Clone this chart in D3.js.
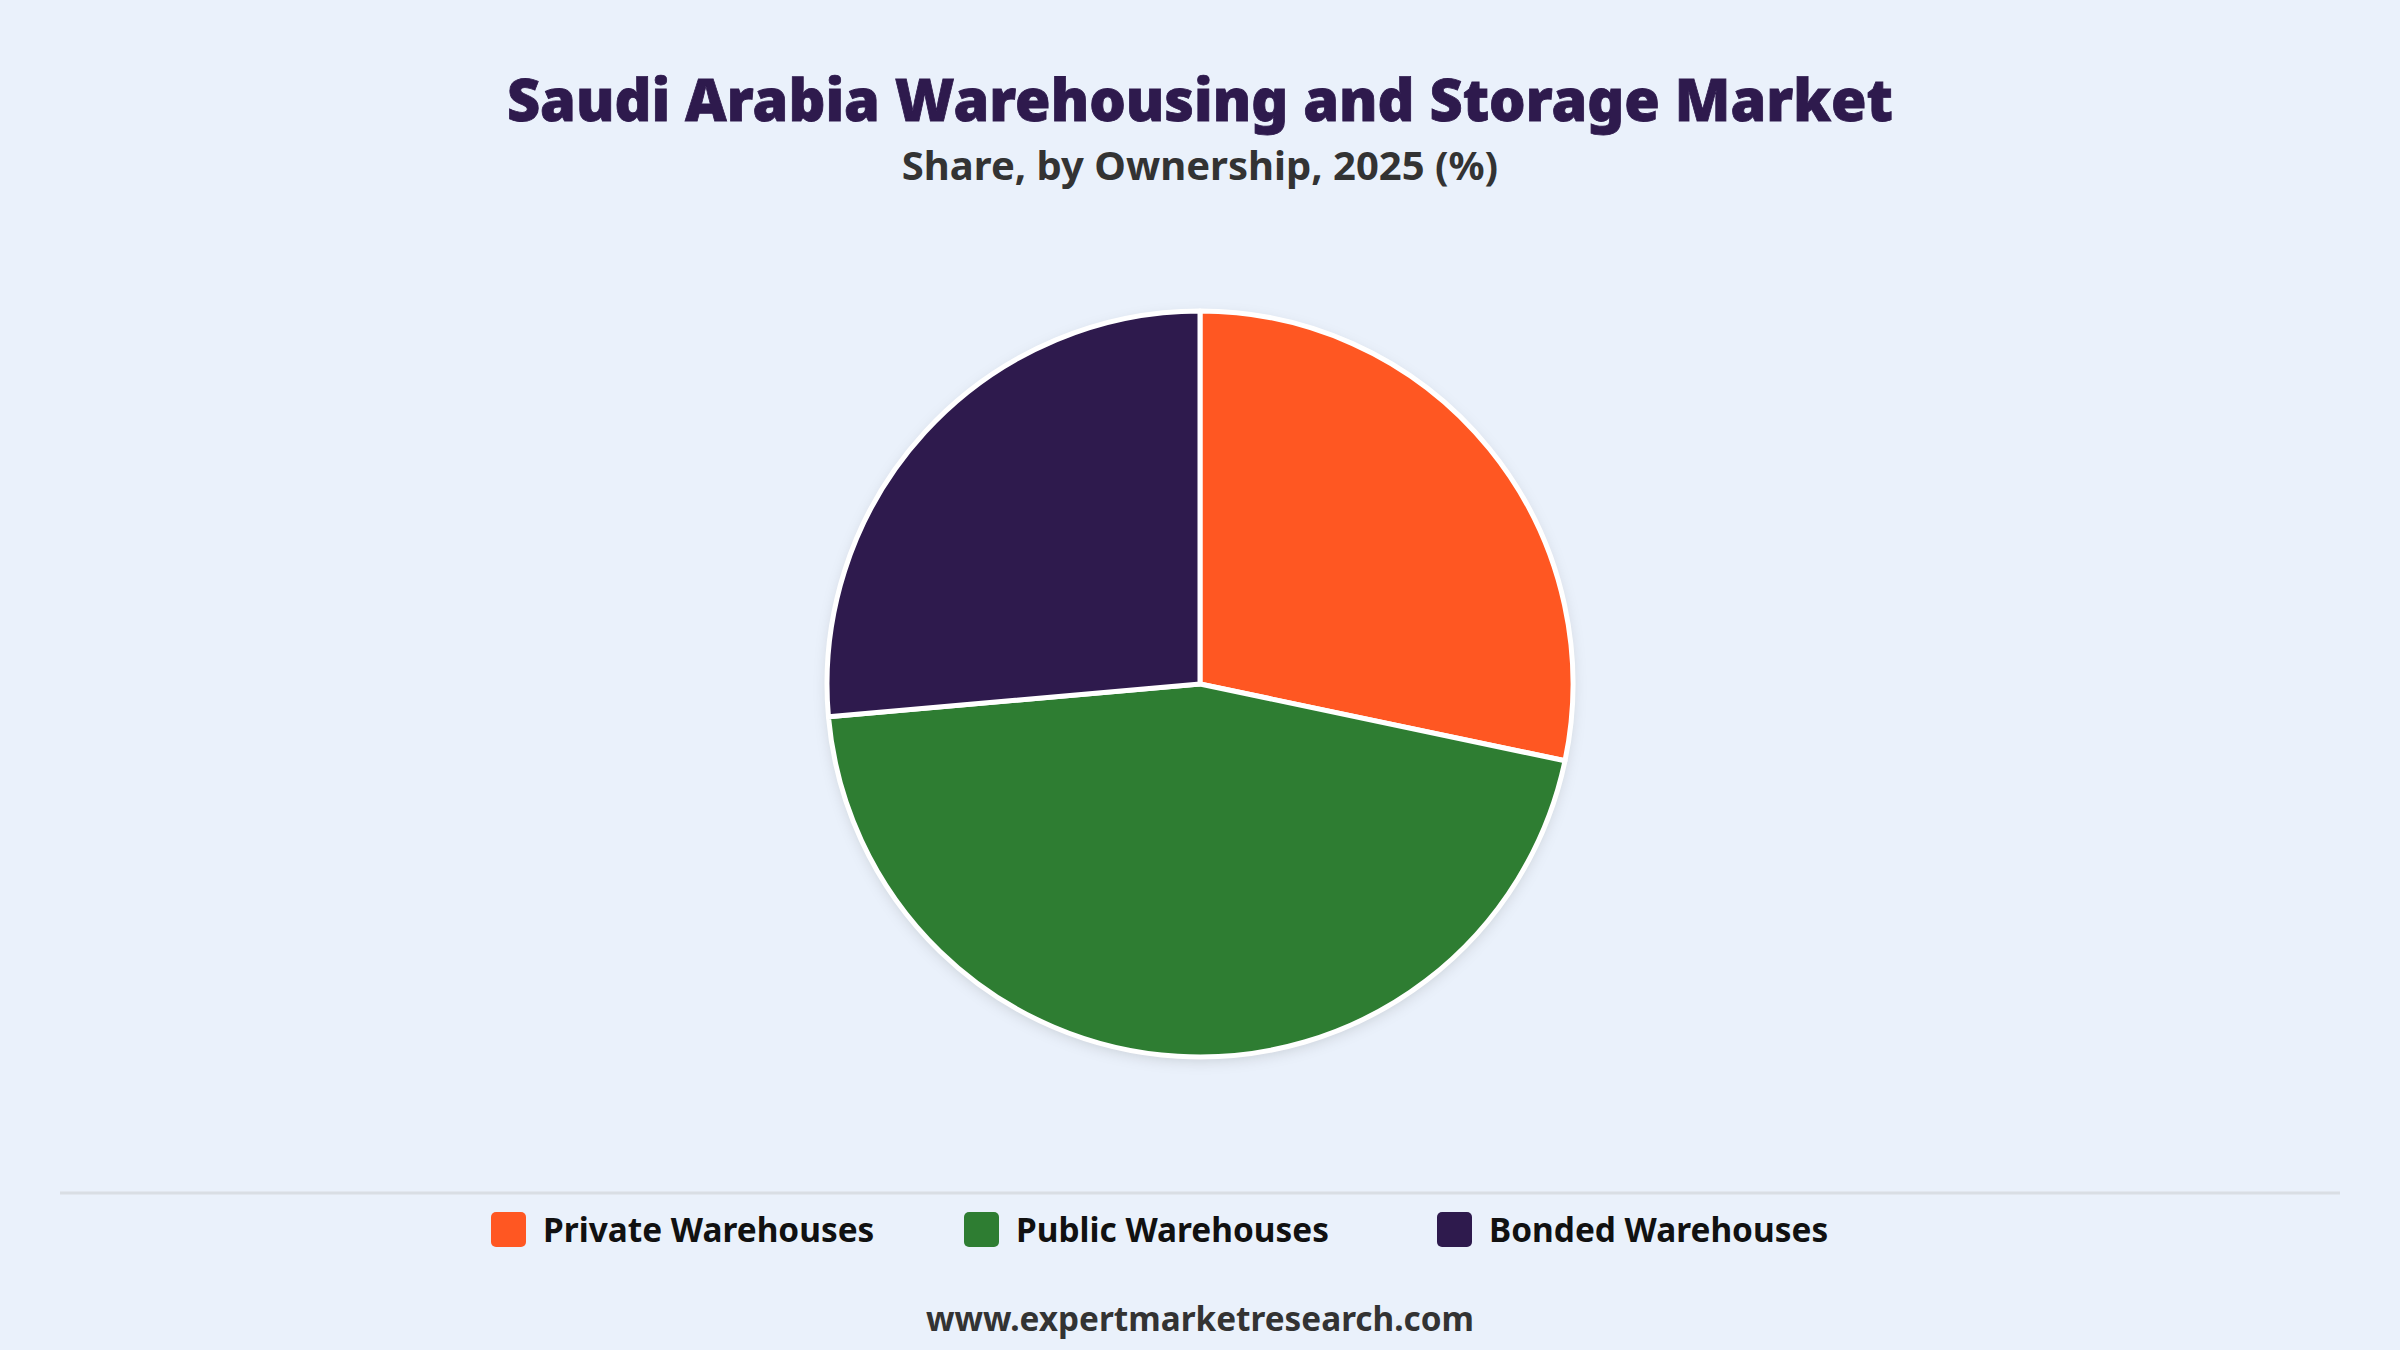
<!DOCTYPE html>
<html><head><meta charset="utf-8">
<script src="https://cdn.jsdelivr.net/npm/d3@7"></script>
<style>
html,body{margin:0;padding:0;background:#EAF1FB;}
svg{display:block;}
text{font-family:"Noto Sans","Open Sans",sans-serif;}
</style></head>
<body>
<svg id="chart" width="2400" height="1350"></svg>
<script>
const categories = ["Private Warehouses", "Public Warehouses", "Bonded Warehouses"];
const shares = [28.3, 45.3, 26.4];
const colors = ["#FF5722", "#2E7D32", "#2E1A4D"];
const titleText = "Saudi Arabia Warehousing and Storage Market";
const subtitleText = "Share, by Ownership, 2025 (%)";
const footerText = "www.expertmarketresearch.com";

const W = 2400, H = 1350;
const svg = d3.select("#chart");
svg.append("rect").attr("width", W).attr("height", H).attr("fill", "#EAF1FB");

const defs = svg.append("defs");
const f = defs.append("filter").attr("id", "shadow").attr("x", "-20%").attr("y", "-20%").attr("width", "140%").attr("height", "140%");
f.append("feDropShadow").attr("dx", 0).attr("dy", 4).attr("stdDeviation", 7).attr("flood-color", "#000").attr("flood-opacity", 0.14);

svg.append("text").attr("x", W/2).attr("y", 121).attr("text-anchor", "middle")
  .attr("font-size", 57.5).attr("font-weight", 900).attr("fill", "#2E1A4D")
  .attr("stroke", "#2E1A4D").attr("stroke-width", 0.8).text(titleText);
svg.append("text").attr("x", W/2).attr("y", 180).attr("text-anchor", "middle")
  .attr("font-size", 40).attr("font-weight", 700).attr("fill", "#333333").text(subtitleText);

const cx = 1200, cy = 684, R = 373;
const data = categories.map((c, i) => ({cat: c, value: shares[i], color: colors[i]}));
const pie = d3.pie().value(d => d.value).sort(null);
const arc = d3.arc().innerRadius(0).outerRadius(R);
const g = svg.append("g").attr("transform", `translate(${cx},${cy})`);
g.append("circle").attr("r", R).attr("fill", "#fff").attr("filter", "url(#shadow)");
g.selectAll("path").data(pie(data)).join("path")
  .attr("d", arc).attr("fill", d => d.data.color)
  .attr("stroke", "#fff").attr("stroke-width", 5).attr("stroke-linejoin", "round");

svg.append("line").attr("x1", 60).attr("x2", 2340).attr("y1", 1193).attr("y2", 1193)
  .attr("stroke", "#D9DEE4").attr("stroke-width", 3);

// legend: evenly spaced items
const legendX = d3.scalePoint().domain(categories).range([491, 1437]);
const items = svg.append("g").selectAll("g").data(data).join("g")
  .attr("transform", d => `translate(${legendX(d.cat)},0)`);
items.append("rect").attr("width", 35).attr("height", 35).attr("rx", 5).attr("y", 1212).attr("fill", d => d.color);
items.append("text").attr("x", 52).attr("y", 1242).attr("font-size", 33.4).attr("font-weight", 700)
  .attr("fill", "#111").text(d => d.cat);

svg.append("text").attr("x", W/2).attr("y", 1331).attr("text-anchor", "middle")
  .attr("font-size", 33.3).attr("font-weight", 700).attr("fill", "#333333").text(footerText);
</script>
</body></html>
